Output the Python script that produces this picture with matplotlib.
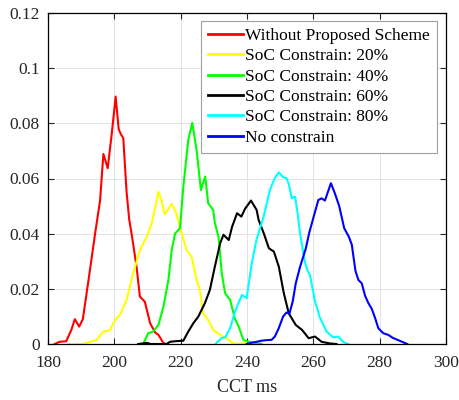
import matplotlib
matplotlib.use('Agg')
import matplotlib.pyplot as plt

plt.rcParams['font.family'] = ['Liberation Serif', 'DejaVu Serif']

# CCT (ms) and probability density
red_x = [182.0, 183.5, 185.5, 187.0, 188.1, 189.4, 190.5, 192.2, 194.2, 195.7,
         196.7, 198.0, 199.2, 200.4, 201.3, 201.9, 202.7, 203.7, 204.5, 205.2,
         206.7, 207.7, 209.2, 210.8, 212.3, 213.3, 214.8, 215.8]
red_y = [0.0, 0.0008, 0.001, 0.005, 0.009, 0.0063, 0.009, 0.023, 0.040, 0.052,
         0.0689, 0.0637, 0.076, 0.0897, 0.0780, 0.0762, 0.0746, 0.055, 0.045, 0.040,
         0.028, 0.0172, 0.0153, 0.0075, 0.0042, 0.0033, 0.0003, 0.0]

yel_x = [186.1, 190.6, 194.7, 196.7, 198.7, 200.2, 201.7, 203.7, 205.7, 207.7,
         209.8, 211.3, 212.8, 213.3, 214.0, 215.2, 216.3, 217.3, 218.5, 219.8,
         221.8, 223.3, 224.8, 225.8, 226.8, 228.3, 229.8, 231.9, 233.9, 235.5,
         237.0, 239.0, 241.0]
yel_y = [0.0, 0.0, 0.0015, 0.0045, 0.005, 0.0087, 0.0105, 0.016, 0.0256, 0.034,
         0.0389, 0.0438, 0.0522, 0.0552, 0.0530, 0.0470, 0.0490, 0.0508, 0.0480, 0.0425,
         0.034, 0.0317, 0.0232, 0.0196, 0.0111, 0.0087, 0.0051, 0.0033, 0.0020, 0.0005,
         0.0, 0.0002, 0.0]

grn_x = [208.7, 210.2, 211.7, 213.3, 214.8, 216.3, 217.3, 218.3, 219.8, 220.8,
         222.3, 223.5, 224.8, 226.1, 227.4, 228.3, 229.8, 230.3, 231.4, 232.4,
         233.4, 234.9, 236.4, 237.5, 238.9, 240.5, 242.9, 244.4]
grn_y = [0.0, 0.0039, 0.0045, 0.0069, 0.0135, 0.0232, 0.034, 0.040, 0.042, 0.057,
         0.074, 0.0802, 0.0703, 0.0558, 0.0607, 0.051, 0.0486, 0.0440, 0.0389, 0.0256,
         0.0184, 0.016, 0.0090, 0.0063, 0.0015, 0.0008, 0.0003, 0.0]

blk_x = [207.2, 209.8, 211.0, 215.8, 216.8, 218.3, 220.8, 222.3, 223.8, 225.3,
         227.3, 228.8, 230.3, 231.9, 232.9, 234.5, 235.5, 237.0, 238.3, 239.4,
         241.2, 242.9, 243.5, 245.1, 246.6, 248.1, 249.6, 251.1, 252.6, 254.7,
         256.6, 258.6, 260.5, 262.5, 265.0, 267.0]
blk_y = [0.0, 0.0004, 0.0, 0.0, 0.0008, 0.001, 0.0012, 0.0045, 0.0075, 0.0099,
         0.0148, 0.0196, 0.028, 0.0365, 0.0396, 0.0377, 0.0425, 0.0474, 0.0462, 0.0490,
         0.0520, 0.0486, 0.045, 0.040, 0.0347, 0.0335, 0.028, 0.0184, 0.0111, 0.0069,
         0.0051, 0.0021, 0.0027, 0.0008, 0.0002, 0.0]

cyn_x = [230.5, 232.4, 233.5, 235.0, 236.2, 237.4, 238.5, 239.9, 241.4, 242.9,
         244.4, 245.0, 246.9, 248.3, 249.6, 250.9, 251.9, 252.6, 253.5, 254.5,
         255.3, 256.0, 257.5, 258.3, 259.0, 260.5, 262.0, 264.0, 266.0, 267.5,
         269.0, 270.5]
cyn_y = [0.0, 0.0022, 0.0025, 0.006, 0.011, 0.0148, 0.0178, 0.0166, 0.0290, 0.0380,
         0.0438, 0.046, 0.0558, 0.060, 0.0622, 0.0605, 0.0601, 0.058, 0.0528, 0.0534,
         0.047, 0.040, 0.0295, 0.0265, 0.025, 0.0155, 0.0095, 0.0045, 0.0024, 0.0027,
         0.0007, 0.0]

blu_x = [239.9, 241.5, 242.9, 244.4, 245.9, 247.4, 248.4, 249.6, 250.9, 251.9,
         252.8, 253.8, 254.7, 256.0, 257.7, 258.8, 260.3, 261.5, 262.5, 263.5,
         264.5, 265.3, 266.5, 267.8, 269.3, 270.7, 271.6, 272.7, 273.6, 274.6,
         275.6, 276.6, 277.6, 278.6, 279.6, 281.1, 282.6, 284.0, 285.4, 288.3]
blu_y = [0.0, 0.0005, 0.0008, 0.0012, 0.0014, 0.0015, 0.0027, 0.0058, 0.0100, 0.0114,
         0.0110, 0.0155, 0.0220, 0.0280, 0.0345, 0.0405, 0.0470, 0.0522, 0.0528, 0.0520,
         0.0555, 0.0583, 0.0546, 0.0500, 0.0420, 0.0389, 0.0360, 0.0265, 0.0232, 0.0220,
         0.0175, 0.0148, 0.0128, 0.0095, 0.0057, 0.0039, 0.0033, 0.0022, 0.0015, 0.0]

labels = ['Without Proposed Scheme', 'SoC Constrain: 20%', 'SoC Constrain: 40%',
          'SoC Constrain: 60%', 'SoC Constrain: 80%', 'No constrain']
colors = ['#ff0000', '#ffff00', '#00ff00', '#000000', '#00ffff', '#0000ff']

x_ticks = [180, 200, 220, 240, 260, 280, 300]
y_ticks = [0, 0.02, 0.04, 0.06, 0.08, 0.1, 0.12]
y_tick_labels = ['0', '0.02', '0.04', '0.06', '0.08', '0.1', '0.12']

fig = plt.figure(figsize=(4.6, 4.0), dpi=100)
ax = fig.add_axes([48 / 460, 56 / 400, 398 / 460, 331 / 400])

series = [(red_x, red_y), (yel_x, yel_y), (grn_x, grn_y),
          (blk_x, blk_y), (cyn_x, cyn_y), (blu_x, blu_y)]
for (xs, ys), lab, col in zip(series, labels, colors):
    ax.plot(xs, ys, color=col, lw=1.5, label=lab, solid_joinstyle='round')

ax.set_xlim(180, 300)
ax.set_ylim(0, 0.12)
ax.set_xticks(x_ticks)
ax.set_yticks(y_ticks)
ax.set_yticklabels(y_tick_labels)
ax.grid(True, color='#e3e3e3', lw=0.7)
ax.set_axisbelow(True)
ax.tick_params(direction='in', top=True, right=True, length=4, width=0.8,
               labelsize=12.5, colors='#262626', pad=6)
ax.tick_params(axis='x', pad=8)
for s in ax.spines.values():
    s.set_linewidth(0.9)
ax.set_xlabel('CCT ms', fontsize=13, color='#262626', labelpad=6)

leg = ax.legend(loc='upper right', bbox_to_anchor=(0.977, 0.976), borderaxespad=0,
                fontsize=12.5, handlelength=2.0, handletextpad=0.15,
                labelspacing=0.24, borderpad=0.4, fancybox=False, framealpha=1)
leg.get_frame().set_edgecolor('#a0a0a0')
leg.get_frame().set_linewidth(0.8)
for line in leg.get_lines():
    line.set_linewidth(2.0)

fig.savefig('out.png', dpi=100)
